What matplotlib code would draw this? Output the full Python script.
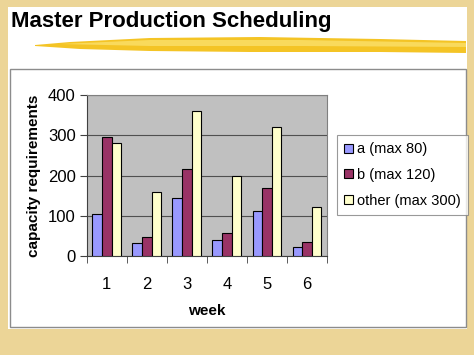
import numpy as np
import matplotlib
matplotlib.use("Agg")
import matplotlib.pyplot as plt
from matplotlib.patches import Rectangle, Polygon

weeks = ["1", "2", "3", "4", "5", "6"]
a_vals = [104, 32, 145, 40, 113, 23]
b_vals = [296, 48, 215, 58, 170, 34]
other_vals = [280, 160, 360, 198, 320, 121]
series_names = ["a (max 80)", "b (max 120)", "other (max 300)"]
colors = ["#9999FF", "#993366", "#FFFFCC"]

W, H = 474, 355


def fx(px):
	return px / W


def fy(py):
	return 1 - py / H


def main():
	plt.rcParams['font.family'] = ['Liberation Sans', 'DejaVu Sans']
	fig = plt.figure(figsize=(4.74, 3.55), dpi=100)
	fig.patch.set_facecolor("#ECD597")

	# white slide
	fig.patches.append(Rectangle((fx(8), fy(329)), fx(467) - fx(8), fy(7) - fy(329),
		transform=fig.transFigure, facecolor="white", edgecolor="none", zorder=0))
	# chart frame
	fig.patches.append(Rectangle((fx(10), fy(327)), fx(466) - fx(10), fy(69) - fy(327),
		transform=fig.transFigure, facecolor="white", edgecolor="#8c8c8c", lw=1, zorder=1))

	# yellow brush stroke under title
	stroke = [(35, 45), (70, 42), (150, 38), (260, 37), (380, 39), (466, 41),
			  (466, 53), (380, 52), (250, 52), (150, 51), (80, 49), (35, 46)]
	fig.patches.append(Polygon([(fx(x), fy(y)) for x, y in stroke], closed=True,
		transform=fig.transFigure, facecolor="#F4C425", edgecolor="none", zorder=1))
	stroke2 = [(60, 44), (150, 40), (300, 40), (466, 43), (466, 47), (300, 46), (150, 46)]
	fig.patches.append(Polygon([(fx(x), fy(y)) for x, y in stroke2], closed=True,
		transform=fig.transFigure, facecolor="#F9DA5C", edgecolor="none", zorder=1))

	fig.text(fx(11), fy(21), "Master Production Scheduling", fontsize=16, fontweight="bold",
		va="center", ha="left", color="black")

	ax = fig.add_axes([fx(86.7), fy(256), fx(327) - fx(86.7), fy(95) - fy(256)])
	ax.set_zorder(2)
	ax.set_facecolor("#C0C0C0")
	x = np.arange(len(weeks))
	w = 0.24
	for i, (vals, name, c) in enumerate(zip([a_vals, b_vals, other_vals], series_names, colors)):
		ax.bar(x + (i - 1) * w, vals, width=w, color=c, edgecolor="black", lw=0.8,
			label=name, zorder=3)

	ax.set_xlim(-0.5, 5.5)
	ax.set_ylim(0, 400)
	ax.set_yticks([0, 100, 200, 300, 400])
	ax.set_xticks(x)
	ax.set_xticklabels(weeks)
	ax.set_xticks(np.arange(-0.5, 6, 1), minor=True)
	ax.tick_params(axis="x", which="major", length=0, labelsize=12, pad=15)
	ax.tick_params(axis="x", which="minor", length=5, direction="out", color="#404040")
	ax.tick_params(axis="y", length=5, direction="out", labelsize=12, pad=3, color="#404040")
	ax.yaxis.grid(True, color="#505050", lw=0.8, zorder=1)
	ax.set_axisbelow(True)
	for s in ["top", "right"]:
		ax.spines[s].set_color("#808080")
	for s in ["left", "bottom"]:
		ax.spines[s].set_color("#404040")
	ax.set_xlabel("week", fontsize=11, fontweight="bold", labelpad=9)
	ax.set_ylabel("capacity requirements", fontsize=11, fontweight="bold", labelpad=5)

	leg = ax.legend(loc="upper left", bbox_to_anchor=(fx(337), fy(135)),
		bbox_transform=fig.transFigure, frameon=True, fancybox=False, fontsize=10.5,
		handlelength=0.6, handleheight=0.6, handletextpad=0.25, borderpad=0.5,
		labelspacing=0.8, borderaxespad=0)
	leg.get_frame().set_edgecolor("#808080")
	leg.get_frame().set_linewidth(0.8)

	fig.savefig("out.png", dpi=100, facecolor=fig.get_facecolor())


if __name__ == "__main__":
	main()
